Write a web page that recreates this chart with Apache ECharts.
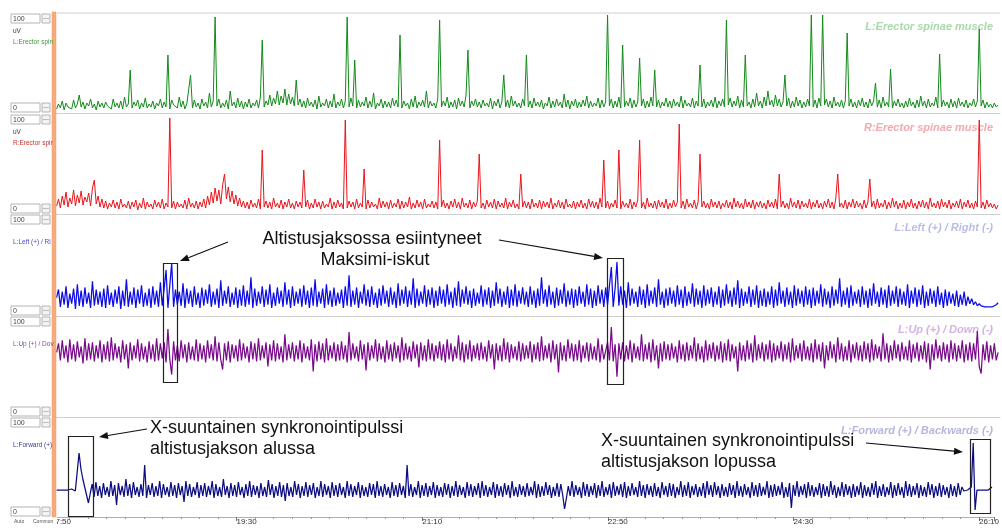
<!DOCTYPE html>
<html><head><meta charset="utf-8">
<script src="https://cdn.jsdelivr.net/npm/echarts@6/dist/echarts.min.js"></script>
<style>html,body{margin:0;padding:0;background:#fff}#c{width:1002px;height:531px}</style>
</head><body><div id="c"></div>
<script>
// ---- time axis ----
const T0 = 1073;          // first sample, seconds (17:53)
const STEP = 1.01;        // seconds between samples
const TICK_LABELS = ['17:50', '19:30', '21:10', '22:50', '24:30', '26:10'];

// ---- channel values (display units, 0..100 per panel) ----
const erectorL = [
4,9,5,12,3,10,6,8,4,13,5,9,18,6,11,4,10,7,14,5,9,3,12,6,10,
5,11,7,9,4,14,6,10,5,12,4,16,6,9,43,5,11,7,13,4,10,6,15,5,9,
6,12,4,10,7,14,5,11,6,58,4,13,8,10,5,16,6,12,4,9,7,38,5,13,6,
10,4,14,7,11,5,20,6,12,96,7,14,5,10,6,13,4,22,7,11,5,15,6,12,4,
11,6,14,5,10,7,13,5,16,73,6,12,8,18,7,15,9,22,8,17,10,24,8,19,9,
16,7,33,8,14,6,12,5,15,7,11,6,13,4,17,6,10,7,14,5,12,6,19,5,11,
7,14,5,12,96,6,15,7,53,5,13,6,11,7,16,5,12,6,20,4,10,7,14,5,12,
6,11,5,15,7,13,6,78,5,12,7,10,4,14,6,17,5,11,7,13,6,22,5,12,7,
10,5,14,93,6,12,7,16,5,11,6,13,4,15,7,12,6,18,63,5,12,7,14,6,11,
5,13,7,10,6,15,4,12,7,14,5,11,38,6,13,5,17,7,12,6,10,5,14,7,58,
6,12,5,15,7,11,6,13,4,10,7,16,5,12,6,14,7,11,5,19,6,13,4,12,7,
14,5,11,6,13,7,17,5,12,6,10,7,15,5,13,6,11,98,7,14,5,12,6,16,5,
68,6,12,7,15,5,13,6,11,55,7,14,5,12,6,16,7,43,6,13,5,11,7,15,6,
12,5,14,7,11,6,17,5,13,7,10,6,15,5,12,7,48,6,14,5,11,7,13,6,16,
5,12,7,14,6,93,8,15,6,12,7,17,5,13,6,58,7,11,5,14,6,20,7,12,5,
16,7,22,8,13,6,18,7,14,6,11,38,7,15,5,12,6,16,7,13,5,11,6,14,7,
98,6,13,5,15,7,98,8,14,6,12,5,16,7,11,6,13,5,12,80,7,14,6,11,5,
13,7,15,6,11,5,14,7,12,30,6,13,5,16,7,11,6,44,5,12,7,14,6,10,5,
12,6,15,7,11,5,13,6,17,7,12,5,14,6,10,7,16,5,59,6,13,7,11,5,14,
6,12,5,15,7,11,6,13,5,10,7,14,6,12,84,7,13,5,11,6,9,5,10,6,8];

const erectorR = [
8,15,6,18,9,22,7,16,10,24,8,19,11,23,9,17,12,21,8,26,34,10,18,7,15,
6,13,5,11,7,14,6,12,5,15,7,10,6,13,5,12,7,14,4,11,6,16,5,12,7,
10,5,14,7,12,6,15,5,11,7,96,6,13,5,12,7,10,6,14,5,16,7,11,6,13,
5,12,7,15,6,18,9,22,11,26,13,24,10,29,40,15,27,12,23,10,19,8,16,7,13,
6,12,5,14,7,11,6,15,5,64,7,13,6,12,5,16,7,11,6,14,5,12,7,15,6,
11,5,13,7,12,6,44,7,14,5,11,6,15,7,12,5,13,6,10,7,16,5,12,6,14,
7,11,5,94,6,13,7,12,5,15,6,11,7,45,5,14,6,12,7,10,5,16,6,13,7,
12,5,14,6,11,7,15,5,13,6,12,7,17,5,11,6,14,7,12,5,15,6,10,7,13,
6,12,5,74,7,14,6,11,5,13,7,15,6,12,5,16,7,11,6,14,5,12,7,13,60,
6,11,5,14,7,12,6,15,5,13,7,11,6,16,5,12,7,14,6,10,5,40,7,13,6,
12,5,15,7,11,6,14,5,13,7,12,6,16,5,11,7,14,6,12,5,15,7,10,6,13,
5,12,7,14,6,11,5,15,7,13,6,12,5,16,7,54,6,13,5,11,7,14,6,64,5,
13,7,11,6,15,5,12,7,14,74,6,12,5,16,7,11,6,13,5,14,7,12,6,15,5,
11,6,14,7,12,90,6,13,5,15,7,11,6,14,5,12,60,7,13,6,11,5,15,7,12,
6,13,5,11,7,14,6,12,5,16,7,13,6,11,5,15,7,12,6,14,5,12,7,13,6,
11,5,14,7,12,6,15,5,40,7,13,6,11,5,16,7,12,6,14,5,13,7,11,6,15,
5,12,7,14,6,11,5,13,7,15,6,12,5,16,40,7,11,6,14,5,12,7,15,6,13,
7,11,5,14,6,12,35,7,13,5,15,6,11,7,14,5,12,6,16,7,13,5,11,6,14,
5,12,7,15,6,11,5,13,7,14,6,12,5,16,7,11,6,13,5,15,7,12,6,14,5,
11,7,13,6,15,5,12,7,14,6,11,5,13,7,94,6,12,5,14,7,11,6,10,5,9];

const leftRight = [
18,26,9,24,11,29,8,22,12,27,7,31,10,25,9,28,12,23,8,34,10,26,11,24,9,
27,8,30,11,23,9,26,12,29,7,25,10,36,9,24,11,28,8,26,12,30,9,23,10,27,
8,29,11,25,9,33,10,27,45,8,30,52,9,26,11,24,10,32,8,27,12,25,9,29,11,
23,8,28,10,26,12,31,9,24,11,27,8,35,10,25,12,29,9,23,11,28,8,26,10,30,
9,25,11,38,8,27,10,24,12,29,9,26,11,31,8,23,10,28,12,25,9,33,11,26,8,
29,10,24,12,27,9,30,11,25,8,28,10,36,9,24,12,27,8,31,11,25,9,28,10,23,
12,26,8,29,10,40,9,25,11,28,8,24,12,31,10,26,9,29,11,23,8,27,10,30,12,
25,9,28,11,24,8,32,10,26,12,29,9,25,11,37,8,27,10,24,12,30,9,26,11,28,
8,25,10,29,12,26,9,31,11,24,8,28,10,34,9,26,12,29,11,25,8,27,10,23,12,
30,9,26,11,28,8,25,10,33,12,27,9,24,11,29,8,26,10,31,9,25,12,28,11,24,
9,29,11,25,8,27,10,38,12,26,9,30,11,24,8,28,10,26,12,32,9,25,11,27,8,
26,10,29,12,24,9,31,11,27,8,25,10,30,12,26,9,28,11,10,48,9,27,53,10,29,
11,25,8,33,10,27,12,24,9,29,11,26,8,31,10,25,12,28,9,36,11,24,8,27,10,
28,12,25,9,30,11,26,8,29,10,24,12,32,9,27,11,25,8,30,10,26,12,28,9,24,
11,29,8,26,10,31,12,25,9,28,11,35,8,27,10,24,12,29,9,26,11,30,8,25,10,
27,9,24,11,29,8,26,10,33,12,25,9,28,11,24,8,30,10,27,12,25,9,29,11,26,
8,28,10,25,12,31,9,27,11,24,8,29,10,26,12,37,9,25,11,28,8,30,10,24,12,
26,9,29,11,25,8,27,10,32,12,24,9,28,11,26,8,30,10,25,12,29,9,27,11,24,
10,31,8,25,12,28,9,26,11,30,8,24,10,27,12,25,9,29,11,23,8,26,10,24,12,
22,10,25,9,21,11,24,10,19,12,17,11,14,10,12,10,11,9,10,9,10,9,10,11,13];

const upDown = [
64,73,56,76,58,71,54,77,57,72,55,75,59,70,53,78,56,73,57,74,55,71,58,76,54,
72,57,75,55,79,56,73,58,70,54,76,57,72,48,74,56,71,58,77,55,73,57,70,54,75,
57,72,55,78,56,73,58,74,54,87,57,42,75,56,71,55,76,58,72,54,74,57,70,56,77,
55,73,57,71,54,76,58,72,56,80,55,74,57,47,73,56,75,54,72,58,71,55,77,56,73,
58,70,54,75,57,73,55,78,56,71,58,74,50,72,56,76,55,73,57,70,54,82,56,72,58,
74,55,71,57,76,54,73,58,70,56,77,45,72,55,75,57,73,54,78,56,71,58,74,55,72,
56,75,57,71,54,84,56,73,58,70,55,76,57,72,46,74,56,71,58,77,55,73,57,70,54,
76,57,72,55,74,58,71,54,79,56,73,57,70,55,75,58,72,49,74,56,71,55,77,57,73,
55,71,58,75,56,72,54,77,57,73,55,70,58,81,56,74,54,72,57,76,55,71,58,73,56,
74,57,70,55,76,58,72,47,73,56,71,55,78,57,74,54,72,58,70,56,75,55,73,57,71,
58,75,54,72,57,74,55,80,56,71,58,73,54,76,57,72,44,74,56,71,55,77,58,73,55,
72,56,76,54,71,58,74,55,73,57,70,56,78,54,72,57,58,74,56,89,55,72,40,73,57,
74,55,71,57,76,54,73,58,70,56,82,55,72,57,74,54,77,56,71,48,73,55,75,57,72,
56,73,58,70,54,76,57,72,55,74,56,71,58,79,55,73,57,70,54,76,56,72,58,74,55,
71,57,75,54,73,56,77,55,72,58,70,45,74,56,71,55,76,57,73,54,81,56,72,58,74,
55,72,57,76,54,73,56,71,58,75,55,72,57,74,54,78,56,71,58,73,55,76,57,70,56,
73,54,77,57,72,55,74,48,71,56,75,58,72,54,79,57,73,55,70,56,76,54,72,58,74,
56,71,55,75,57,73,54,77,56,72,58,70,55,83,57,73,54,71,56,76,58,72,55,74,57,
70,56,76,54,72,58,74,55,71,57,75,54,73,47,72,56,77,58,71,55,74,57,72,54,76,
57,73,55,71,58,76,54,72,56,74,55,73,57,85,50,43,72,56,75,54,71,57,73,56,64];

const fwdBack = [
27,27,27,27,27,26,27,27,28,27,26,27,64,48,38,30,22,14,24,33,20,35,21,31,19,
34,22,30,20,36,21,32,12,34,22,31,20,38,21,33,19,35,22,30,20,33,21,52,19,32,
22,34,20,31,21,36,19,33,22,30,20,35,21,32,19,34,22,31,15,36,21,33,20,30,22,
35,19,32,21,34,20,31,22,36,19,33,21,30,20,38,22,31,19,34,21,32,20,35,22,30,
19,33,21,36,20,32,22,31,19,34,21,30,20,37,22,33,19,31,21,35,20,32,16,34,21,
30,20,36,22,33,19,31,21,35,20,32,22,34,19,30,21,36,20,33,22,31,19,35,21,32,
20,34,22,30,19,36,21,33,20,31,22,35,19,32,21,30,20,34,22,33,19,36,21,31,20,
33,22,30,19,35,21,32,20,34,22,31,19,52,21,33,20,30,22,36,19,32,21,34,20,31,
22,35,19,32,21,30,20,34,22,33,19,31,21,36,20,32,22,30,19,35,21,33,20,31,22,
34,19,36,21,32,20,30,22,35,19,33,21,31,20,34,22,32,19,36,21,30,20,33,22,31,
20,34,21,30,22,36,19,33,20,31,21,35,22,32,19,30,21,34,20,33,22,8,19,31,21,
36,20,32,22,30,19,35,21,33,20,31,22,34,19,32,21,36,20,30,22,33,19,35,21,31,
22,33,20,35,19,31,21,34,22,30,20,36,21,32,19,33,22,31,20,34,21,30,19,35,22,
31,20,34,21,33,19,30,22,36,20,32,21,35,19,31,22,33,20,30,21,34,19,36,22,32,
20,35,22,31,19,33,21,30,20,34,22,32,19,36,21,31,20,33,22,30,19,35,21,32,20,
34,21,30,22,36,19,32,20,33,21,31,22,35,19,30,20,34,9,32,21,36,20,31,22,33,
19,35,21,32,20,30,22,34,19,33,21,31,20,36,22,32,19,30,21,35,20,33,22,31,19,
33,20,31,22,35,19,32,21,30,20,34,22,36,19,31,21,33,20,30,22,35,19,32,21,34,
22,30,19,36,21,33,20,31,22,34,19,32,21,30,20,35,22,33,19,31,21,34,20,32,22,
30,19,33,21,31,20,34,22,30,26,28,27,26,30,74,7,27,27,27,27,27,28,27,27,30];

const CHANNELS = [
  { name: 'L:Erector spinae muscle', short: 'L:Erector spin', unit: 'uV', values: erectorL, color: '#138a1a', width: 1, title: '#a9d9a9', label: '#3a9a3a' },
  { name: 'R:Erector spinae muscle', short: 'R:Erector spir', unit: 'uV', values: erectorR, color: '#ea141c', width: 1, title: '#f5a8b0', label: '#c83030' },
  { name: 'L:Left (+) / Right (-)', short: 'L:Left (+) / Ri', unit: '', values: leftRight, color: '#0c0ce8', width: 1.25, title: '#bcbcec', label: '#4848c8' },
  { name: 'L:Up (+) / Down (-)', short: 'L:Up (+) / Dov', unit: '', values: upDown, color: '#7a0c8c', width: 1.25, title: '#d4b2e2', label: '#8050a8' },
  { name: 'L:Forward (+) / Backwards (-)', short: 'L:Forward (+)', unit: '', values: fwdBack, color: '#0c0c82', width: 1.25, title: '#b6b6de', label: '#40409a' }
];

// ---- layout ----
const PANELS = [ {top: 13, h: 100}, {top: 114, h: 100}, {top: 214, h: 102}, {top: 316, h: 101}, {top: 417, h: 100} ];
const GRID_LEFT = 51, GRID_W = 949, XMIN = 1070, XMAX = 1578;
const FONT = '"Liberation Sans", Arial, sans-serif';

const grids = [], xAxes = [], yAxes = [], series = [], graphics = [];
CHANNELS.forEach((ch, k) => {
  const p = PANELS[k];
  const last = k === CHANNELS.length - 1;
  grids.push({ left: GRID_LEFT, top: p.top, width: GRID_W, height: p.h, containLabel: false });
  xAxes.push({
    gridIndex: k, type: 'value', min: XMIN, max: XMAX, interval: 100,
    axisLine: { show: true, onZero: false, lineStyle: { color: last ? '#b0b0b0' : '#cfcfcf', width: 1 } },
    axisTick: { show: last, length: 4, lineStyle: { color: '#777' } },
    minorTick: { show: last, splitNumber: 10, length: 2, lineStyle: { color: '#999' } },
    axisLabel: {
      show: last, margin: 1, align: 'left', color: '#333', fontSize: 8, fontFamily: FONT,
      showMaxLabel: false,
      formatter: v => TICK_LABELS[Math.round((v - XMIN) / 100)] || ''
    },
    splitLine: { show: false }
  });
  yAxes.push({ gridIndex: k, type: 'value', min: 0, max: 100, show: false, splitLine: { show: false } });
  series.push({
    type: 'line', xAxisIndex: k, yAxisIndex: k, name: ch.name,
    data: ch.values.map((v, i) => [T0 + i * STEP, v]),
    showSymbol: false, symbol: 'none', silent: true, z: 2,
    lineStyle: { color: ch.color, width: ch.width }
  });
  graphics.push({ type: 'text', z: 1, style: { text: ch.name, x: 993, y: p.top + 14, align: 'right', textAlign: 'right', verticalAlign: 'middle', textVerticalAlign: 'middle', fontSize: 11, fontWeight: 'bold', fontStyle: 'italic', fontFamily: FONT, fill: ch.title } });
});

graphics.push({ type: 'line', z: 5, shape: { x1: 57, y1: 13, x2: 1000, y2: 13 }, style: { stroke: '#cfcfcf', lineWidth: 1 } });

// left control strip
graphics.push({ type: 'rect', z: 50, shape: { x: 0, y: 0, width: 52, height: 531 }, style: { fill: '#ffffff' } });
graphics.push({ type: 'rect', z: 50, shape: { x: 52, y: 517, width: 5, height: 14 }, style: { fill: '#ffffff' } });
graphics.push({ type: 'rect', z: 51, shape: { x: 52, y: 12, width: 4, height: 505 }, style: { fill: '#f6ab7e', stroke: '#ee9a66', lineWidth: 0.5 } });
function spinBox(x, y, txt) {
  graphics.push({ type: 'rect', z: 52, shape: { x: x, y: y, width: 29, height: 9 }, style: { fill: '#fff', stroke: '#b4b4b4', lineWidth: 1 } });
  graphics.push({ type: 'text', z: 53, style: { text: txt, x: x + 2, y: y + 5, verticalAlign: 'middle', textVerticalAlign: 'middle', fontSize: 7, fontFamily: FONT, fill: '#444' } });
  graphics.push({ type: 'rect', z: 52, shape: { x: x + 31, y: y, width: 8, height: 9 }, style: { fill: '#f4f4f4', stroke: '#b4b4b4', lineWidth: 1 } });
  graphics.push({ type: 'line', z: 53, shape: { x1: x + 32, y1: y + 4.5, x2: x + 38, y2: y + 4.5 }, style: { stroke: '#999', lineWidth: 0.6 } });
}
CHANNELS.forEach((ch, k) => {
  const p = PANELS[k];
  spinBox(11, p.top + 1, '100');
  spinBox(11, p.top + p.h - 10, '0');
  let ly;
  if (ch.unit) {
    graphics.push({ type: 'text', z: 53, style: { text: ch.unit, x: 13, y: p.top + 18, verticalAlign: 'middle', textVerticalAlign: 'middle', fontSize: 6.5, fontFamily: FONT, fill: '#333' } });
    ly = p.top + 29;
  } else {
    ly = p.top + 28;
  }
  graphics.push({ type: 'text', z: 53, style: { text: ch.short, x: 13, y: ly, verticalAlign: 'middle', textVerticalAlign: 'middle', fontSize: 6.5, fontFamily: FONT, fill: ch.label } });
});
graphics.push({ type: 'text', z: 53, style: { text: 'Auto', x: 14, y: 522, verticalAlign: 'middle', textVerticalAlign: 'middle', fontSize: 5, fontFamily: FONT, fill: '#555' } });
graphics.push({ type: 'text', z: 53, style: { text: 'Common', x: 33, y: 522, verticalAlign: 'middle', textVerticalAlign: 'middle', fontSize: 5, fontFamily: FONT, fill: '#555' } });

// annotations
function arrow(x1, y1, x2, y2) {
  const a = Math.atan2(y2 - y1, x2 - x1), L = 9, W = 3.5;
  const bx = x2 - L * Math.cos(a), by = y2 - L * Math.sin(a);
  graphics.push({ type: 'line', z: 100, shape: { x1, y1, x2: bx, y2: by }, style: { stroke: '#111', lineWidth: 1.2 } });
  graphics.push({ type: 'polygon', z: 100, shape: { points: [[x2, y2], [bx - W * Math.sin(a), by + W * Math.cos(a)], [bx + W * Math.sin(a), by - W * Math.cos(a)]] }, style: { fill: '#111' } });
}
function box(x, y, w, h) {
  graphics.push({ type: 'rect', z: 100, shape: { x, y, width: w, height: h }, style: { fill: 'none', stroke: '#222', lineWidth: 1.2 } });
}
function label(text, x, y, align) {
  graphics.push({ type: 'text', z: 100, style: { text, x, y, align: align, textAlign: align, verticalAlign: 'middle', textVerticalAlign: 'middle', fontSize: 18, fontFamily: FONT, fill: '#111' } });
}
label('Altistusjaksossa esiintyneet', 372, 239, 'center');
label('Maksimi-iskut', 375, 260, 'center');
arrow(228, 242, 180, 261);
arrow(499, 240, 603, 258);
box(163.5, 263.5, 14, 119);
box(607.5, 258.5, 16, 126);
label('X-suuntainen synkronointipulssi', 150, 428, 'left');
label('altistusjakson alussa', 150, 449, 'left');
arrow(147, 429, 99, 437);
box(68.5, 436.5, 25, 80);
label('X-suuntainen synkronointipulssi', 601, 441, 'left');
label('altistusjakson lopussa', 601, 462, 'left');
arrow(866, 443, 963, 452);
box(970.5, 439.5, 20, 74);

const chart = echarts.init(document.getElementById('c'), null, { renderer: 'canvas' });
chart.setOption({
  animation: false,
  backgroundColor: '#ffffff',
  grid: grids, xAxis: xAxes, yAxis: yAxes, series: series,
  graphic: { elements: graphics }
});
</script>
</body></html>
